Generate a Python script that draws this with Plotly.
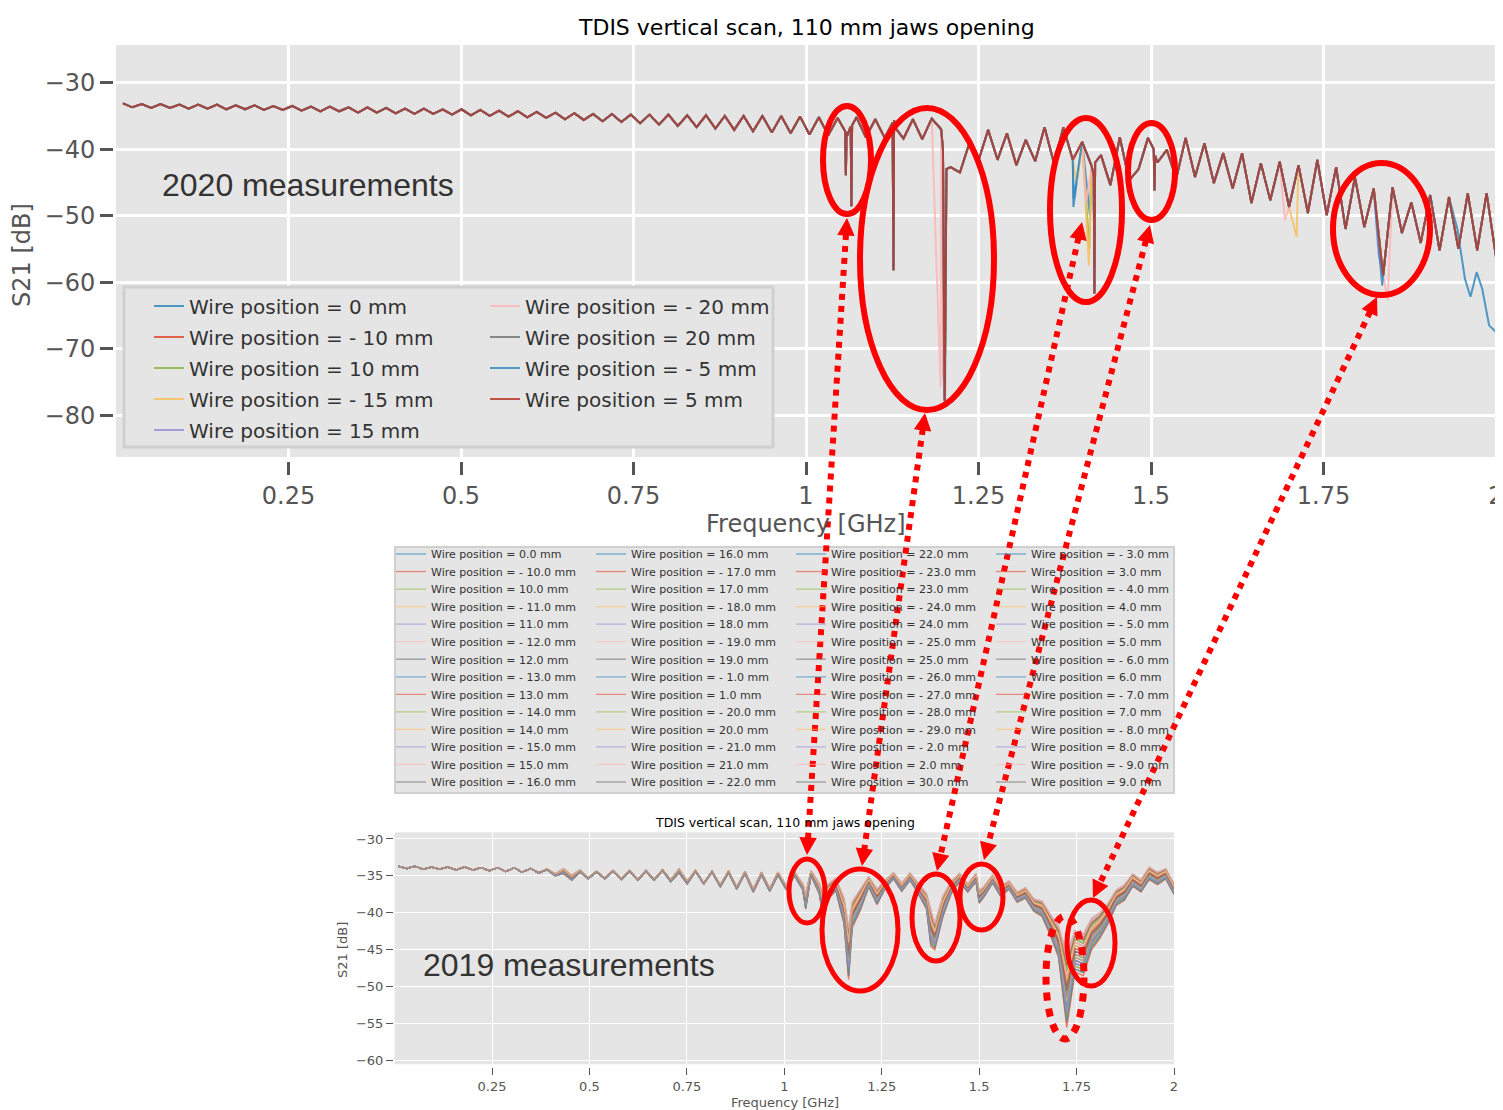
import numpy as np
import plotly.graph_objects as go

W, H = 1503, 1110
PAD = 8                      # the page body margin shifts the figure by this much
FW, FH = W - PAD, H - PAD    # figure size that fits the window

# ---------------- 2020 measurements (upper panel) ----------------
freq_2020 = np.linspace(0.01, 2.0, 147)   # GHz sweep, one point per ripple half-period
s21_2020 = [
    -33.1, -33.7, -33.2, -33.8, -33.2, -33.8, -33.3, -33.9, -33.3, -33.9,
    -33.3, -34.0, -33.4, -34.0, -33.4, -34.1, -33.5, -34.1, -33.5, -34.2,
    -33.6, -34.3, -33.6, -34.3, -33.7, -34.5, -33.7, -34.5, -33.8, -34.6,
    -33.9, -34.7, -33.9, -34.7, -34.0, -34.8, -34.0, -34.9, -34.1, -35.0,
    -34.2, -35.1, -34.3, -35.2, -34.4, -35.3, -34.5, -35.5, -34.6, -35.6,
    -34.7, -35.8, -34.7, -35.9, -34.8, -36.1, -34.8, -36.3, -34.8, -36.5,
    -34.9, -36.7, -34.9, -36.9, -35.0, -37.1, -35.0, -37.3, -35.0, -37.5,
    -35.0, -37.6, -35.1, -37.8, -35.2, -37.9, -35.3, -38.0, -35.2, -38.2,
    -35.5, -38.3, -35.6, -38.4, -35.5, -38.5, -35.4, -37.0, -42.7, -43.5,
    -39.1, -41.6, -37.1, -41.6, -37.6, -42.4, -38.6, -41.8, -36.7, -42.1,
    -36.7, -41.6, -38.9, -42.5, -40.9, -45.4, -38.2, -44.7, -43.0, -38.3,
    -42.0, -40.1, -44.4, -38.3, -44.2, -39.1, -45.1, -40.6, -45.9, -40.6,
    -48.1, -42.1, -47.7, -41.9, -48.7, -42.4, -49.6, -41.6, -49.9, -42.7,
    -52.0, -44.2, -51.7, -45.9, -59.0, -45.7, -52.6, -48.0, -54.1, -46.9,
    -55.2, -47.2, -55.0, -46.6, -55.2, -46.6, -56.2,
]
# narrow resonances shared by every wire position
notch_f_2020 = [1.0568, 1.0578, 1.0588, 1.0648, 1.0658, 1.0668,
                1.1255, 1.1268, 1.1281, 1.1985, 1.2010, 1.2035,
                1.4170, 1.4180, 1.4190, 1.5040, 1.5050, 1.5060]
notch_db_2020 = [-37.3, -43.9, -37.4, -36.6, -48.6, -36.4,
                 -36.0, -58.2, -36.6, -40.0, -77.8, -43.0,
                 -44.0, -61.7, -42.0, -40.0, -46.2, -41.0]

names_2020 = ["Wire position = 0 mm", "Wire position = - 10 mm", "Wire position = 10 mm",
              "Wire position = - 15 mm", "Wire position = 15 mm", "Wire position = - 20 mm",
              "Wire position = 20 mm", "Wire position = - 5 mm", "Wire position = 5 mm"]
colors_2020 = ["#348ABD", "#E24A33", "#8EBA42", "#FBC15E", "#988ED5",
               "#FFB5B8", "#777777", "#348ABD", "#B83A2C"]
# extra spikes seen on single wire positions
spike_f_2020 = [[1.3875, 1.4115], [1.1995], [1.4105], [1.3925, 1.4100, 1.7110], [1.8300],
                [1.1950, 1.4060, 1.6940, 1.8430], [1.2015], [1.3880, 1.8350], []]
spike_db_2020 = [[-48.7, -50.0], [-74.0], [-55.0], [-45.0, -57.5, -53.2], [-56.0],
                 [-75.8, -48.0, -50.7, -62.7], [-78.5], [-47.5, -60.5], []]
# the 0 mm trace drops off at the top of the band
tail_f_0mm = [1.944, 1.955, 1.963, 1.972, 1.980, 1.990, 2.0]
tail_db_0mm = [-52.0, -59.5, -62.2, -58.5, -61.0, -66.5, -67.5]

# ---------------- 2019 measurements (lower panel) ----------------
freq_2019 = np.linspace(0.01, 2.0, 95)
s21_2019 = [
    -33.7, -34.0, -33.7, -34.1, -33.8, -34.1, -33.8, -34.2, -33.8, -34.2,
    -33.9, -34.3, -33.9, -34.4, -33.9, -34.5, -34.0, -34.6, -34.1, -34.8,
    -34.2, -35.1, -34.3, -35.3, -34.4, -35.3, -34.3, -35.4, -34.3, -35.5,
    -34.3, -35.5, -34.2, -35.6, -34.2, -35.8, -34.3, -36.0, -34.4, -36.3,
    -34.4, -36.6, -34.5, -36.9, -34.6, -36.8, -34.6, -36.5, -34.6, -36.3,
    -34.5, -36.4, -36.8, -35.8, -39.0, -39.5, -37.6, -35.5, -37.4, -35.9,
    -34.8, -36.3, -34.9, -36.4, -38.0, -42.5, -38.5, -36.2, -35.0, -36.4,
    -35.0, -36.8, -35.2, -36.8, -36.0, -37.6, -37.0, -38.6, -39.0, -41.0,
    -43.0, -48.5, -44.0, -44.5, -42.0, -41.0, -39.5, -37.5, -36.8, -35.2,
    -36.0, -34.3, -35.0, -34.4, -36.5,
]
# width of the spread between wire positions at each sweep point (dB)
spread_2019 = [
    0, 0, 0, 0, 0, 0, 0, 0, 0, 0,
    0, 0, 0, 0, 0, 0, 0, 0, 0.1, 0.2,
    0.5, 0.5, 0.2, 0.1, 0.1, 0.1, 0.1, 0.1, 0.1, 0.1,
    0.1, 0.1, 0.1, 0.2, 0.4, 0.3, 0.1, 0.1, 0.1, 0.2,
    0.2, 0.2, 0.2, 0.3, 0.3, 0.3, 0.3, 0.4, 0.4, 0.6,
    0.5, 1.0, 1.5, 1.2, 2.5, 2.5, 2.0, 1.0, 1.5, 0.8,
    0.6, 0.8, 0.7, 1.0, 1.5, 2.5, 2.0, 1.2, 0.8, 0.8,
    0.8, 1.0, 0.8, 1.0, 0.8, 1.0, 1.0, 1.2, 1.5, 2.0,
    3.0, 7.0, 4.0, 4.0, 3.0, 2.5, 2.0, 1.5, 1.5, 1.2,
    1.2, 1.2, 1.2, 1.0, 1.0,
]
notch_f_2019 = [1.055, 1.100, 1.165, 1.376, 1.500]
notch_db_2019 = [-38.0, -38.5, -44.0, -41.0, -37.5]
notch_spread_2019 = [1.5, 2.5, 5.0, 3.5, 1.2]

positions_2019 = [
    "0.0", "- 10.0", "10.0", "- 11.0", "11.0", "- 12.0", "12.0", "- 13.0", "13.0", "- 14.0",
    "14.0", "- 15.0", "15.0", "- 16.0",
    "16.0", "- 17.0", "17.0", "- 18.0", "18.0", "- 19.0", "19.0", "- 1.0", "1.0", "- 20.0",
    "20.0", "- 21.0", "21.0", "- 22.0",
    "22.0", "- 23.0", "23.0", "- 24.0", "24.0", "- 25.0", "25.0", "- 26.0", "- 27.0", "- 28.0",
    "- 29.0", "- 2.0", "2.0", "30.0",
    "- 3.0", "3.0", "- 4.0", "4.0", "- 5.0", "5.0", "- 6.0", "6.0", "- 7.0", "7.0",
    "- 8.0", "8.0", "- 9.0", "9.0",
]
# where each wire position sits inside the spread (0 = typical, 1 = deepest)
level_2019 = [0.1, 0.6, -0.2, 1.0, 0.3, -0.3, 0.5, 0.0, 0.8, -0.1, 0.4, 0.9, 0.2, -0.4,
              0.7, 0.1, -0.2, 0.5, 0.9, 1.0, -0.3, 0.6, 0.0, 0.8, 0.2, -0.1, 0.4, 0.7,
              -0.2, 0.3, 0.9, 0.1, 0.5, -0.3, 0.6, 0.2, 1.0, -0.1, 0.4, 0.7, 0.0, 0.3,
              0.5, -0.2, 0.8, 0.1, 0.6, -0.4, 0.3, 0.9, 0.2, -0.1, 0.5, 0.7, 0.0, 0.4]
cycle_2019 = ["#348ABD", "#E24A33", "#8EBA42", "#FBC15E", "#988ED5", "#FFB5B8", "#777777"]

tick_vals = [0.25, 0.5, 0.75, 1.0, 1.25, 1.5, 1.75, 2.0]
tick_text = ["0.25", "0.5", "0.75", "1", "1.25", "1.5", "1.75", "2"]

FONT = "DejaVu Sans"
GREY = "#555555"


def merged(f, v, ef, ev):
    fx = np.concatenate([np.asarray(f, float), np.asarray(ef, float)])
    vx = np.concatenate([np.asarray(v, float), np.asarray(ev, float)])
    order = np.argsort(fx, kind="stable")
    return fx[order], vx[order]


def xp(x):
    return (x - PAD) / FW


def yp(y):
    return 1 - (y - PAD) / FH


fig = go.Figure()

# upper panel traces
base_f, base_v = merged(freq_2020, s21_2020, notch_f_2020, notch_db_2020)
for i, name in enumerate(names_2020):
    f, v = merged(base_f, base_v, spike_f_2020[i], spike_db_2020[i])
    if i == 0:
        keep = f < tail_f_0mm[0]
        f, v = merged(f[keep], v[keep], tail_f_0mm, tail_db_0mm)
    row = i % 5
    fig.add_trace(go.Scatter(
        x=f, y=v, mode="lines", name=name, line=dict(color=colors_2020[i], width=2),
        opacity=0.85, xaxis="x", yaxis="y", hoverinfo="skip",
        legend="legend" if row == 0 else f"legend{row + 1}"))

# lower panel traces
lvl_arr = np.array(level_2019)
for i, pos in enumerate(positions_2019):
    v = np.array(s21_2019) - lvl_arr[i] * np.array(spread_2019)
    nv = np.array(notch_db_2019) - lvl_arr[i] * np.array(notch_spread_2019)
    f, v = merged(freq_2019, v, notch_f_2019, nv)
    row = i % 14
    fig.add_trace(go.Scatter(
        x=f, y=v, mode="lines", name=f"Wire position = {pos} mm",
        line=dict(color=cycle_2019[i % 7], width=1.3), opacity=0.6,
        xaxis="x2", yaxis="y2", hoverinfo="skip", legend=f"legend{row + 6}"))

axis_common = dict(showgrid=True, gridcolor="white", zeroline=False, showline=False,
                   ticks="outside", tickcolor=GREY, anchor="free", ticklabeloverflow="allow")

fig.update_layout(
    width=FW, height=FH, margin=dict(l=0, r=0, t=0, b=0),
    paper_bgcolor="white", plot_bgcolor="#E5E5E5", template="none",
    xaxis=dict(axis_common, domain=[xp(116), xp(1496)], range=[0, 2],
               tickvals=tick_vals, ticktext=tick_text, gridwidth=2.5,
               ticklen=13, tickwidth=2.5, position=yp(461),
               tickfont=dict(family=FONT, size=24, color=GREY)),
    yaxis=dict(axis_common, domain=[yp(457), yp(45)], range=[-86.3, -24.33],
               tickvals=[-80, -70, -60, -50, -40, -30], gridwidth=2.5,
               ticklen=13, tickwidth=2.5, position=xp(113),
               tickfont=dict(family=FONT, size=24, color=GREY)),
    xaxis2=dict(axis_common, domain=[xp(394.6), xp(1174)], range=[0, 2],
                tickvals=tick_vals, ticktext=tick_text, gridwidth=1.3,
                ticklen=7, tickwidth=1.3, position=yp(1067),
                tickfont=dict(family=FONT, size=13, color=GREY)),
    yaxis2=dict(axis_common, domain=[yp(1064.3), yp(832.3)], range=[-60.5, -29.1],
                tickvals=[-60, -55, -50, -45, -40, -35, -30], gridwidth=1.3,
                ticklen=7, tickwidth=1.3, position=xp(393),
                tickfont=dict(family=FONT, size=13, color=GREY)),
)

# legends: one horizontal legend per row so the grid matches the original
for r in range(5):
    key = "legend" if r == 0 else f"legend{r + 1}"
    fig.update_layout({key: dict(
        x=xp(149), y=yp(306 + 31 * r), xanchor="left", yanchor="middle",
        orientation="h", entrywidth=291, entrywidthmode="pixels",
        bgcolor="rgba(0,0,0,0)", borderwidth=0,
        font=dict(family=FONT, size=20, color="#333333"))})
for r in range(14):
    fig.update_layout({f"legend{r + 6}": dict(
        x=xp(391), y=yp(554 + 17.54 * r), xanchor="left", yanchor="middle",
        orientation="h", entrywidth=155, entrywidthmode="pixels",
        bgcolor="rgba(0,0,0,0)", borderwidth=0,
        font=dict(family=FONT, size=11, color="#333333"))})

shapes = []
# legend frames
for (x0, y0, x1, y1, lw) in [(124, 287, 773, 447, 3), (395, 547, 1174, 793, 2)]:
    shapes.append(dict(type="rect", xref="paper", yref="paper",
                       x0=xp(x0), x1=xp(x1), y0=yp(y1), y1=yp(y0),
                       fillcolor="#E5E5E5", line=dict(color="#D0D0D0", width=lw),
                       layer="above"))

# red highlight ellipses (x0, y0, x1, y1 in pixels)
ellipses = [
    (823, 106, 871, 214, 6), (860, 108, 994, 410, 6), (1050, 118, 1122, 302, 6),
    (1128, 123, 1175, 220, 6), (1333, 163, 1430, 295, 6),
    (789, 859, 825, 923, 5), (822, 869, 898, 991, 5), (912, 874, 960, 961, 5),
    (960, 864, 1003, 930, 5), (1067, 900, 1115, 986, 5),
]
for (x0, y0, x1, y1, lw) in ellipses:
    shapes.append(dict(type="circle", xref="paper", yref="paper",
                       x0=xp(x0), x1=xp(x1), y0=yp(y1), y1=yp(y0),
                       line=dict(color="#FF0000", width=lw), layer="above"))
shapes.append(dict(type="circle", xref="paper", yref="paper",
                   x0=xp(1046), x1=xp(1084), y0=yp(1039), y1=yp(916),
                   line=dict(color="#FF0000", width=7, dash="8px,8px"), layer="above"))

# dotted double-headed arrows linking both campaigns
arrows = [((847, 218), (807, 855)), ((925, 413), (862, 866)), ((1082, 222), (937, 871)),
          ((1150, 225), (984, 860)), ((1377, 297), (1093, 898))]
annotations = []
for (tx, ty), (bx, by) in arrows:
    dx, dy = bx - tx, by - ty
    n = (dx * dx + dy * dy) ** 0.5
    ux, uy = dx / n, dy / n
    shapes.append(dict(type="line", xref="paper", yref="paper",
                       x0=xp(tx + 16 * ux), y0=yp(ty + 16 * uy),
                       x1=xp(bx - 16 * ux), y1=yp(by - 16 * uy),
                       line=dict(color="#FF0000", width=6, dash="6px,6px"), layer="above"))
    for (x, y, s) in [(tx, ty, 1), (bx, by, -1)]:
        annotations.append(dict(x=xp(x), y=yp(y), xref="paper", yref="paper", text="",
                                showarrow=True, ax=s * 16 * ux, ay=s * 16 * uy,
                                axref="pixel", ayref="pixel", arrowhead=2, arrowsize=0.7,
                                arrowwidth=5, arrowcolor="#FF0000"))


def label(text, x, y, size, color, family=FONT, angle=0, xanchor="center"):
    annotations.append(dict(x=xp(x), y=yp(y), xref="paper", yref="paper", text=text,
                            showarrow=False, xanchor=xanchor, yanchor="middle",
                            textangle=angle, font=dict(family=family, size=size, color=color)))


label("TDIS vertical scan, 110 mm jaws opening", 806, 27, 22, "#000000")
label("Frequency [GHz]", 806, 524, 24, GREY)
label("S21 [dB]", 22, 255, 24, GREY, angle=-90)
label("2020 measurements", 160, 185, 32, "#333333", family="Liberation Sans", xanchor="left")
label("TDIS vertical scan, 110 mm jaws opening", 785, 822, 12.5, "#000000")
label("Frequency [GHz]", 785, 1102, 13, GREY)
label("S21 [dB]", 342, 950, 13, GREY, angle=-90)
label("2019 measurements", 421, 965, 32, "#333333", family="Liberation Sans", xanchor="left")

fig.update_layout(shapes=shapes, annotations=annotations)
fig.write_html("out.html")
